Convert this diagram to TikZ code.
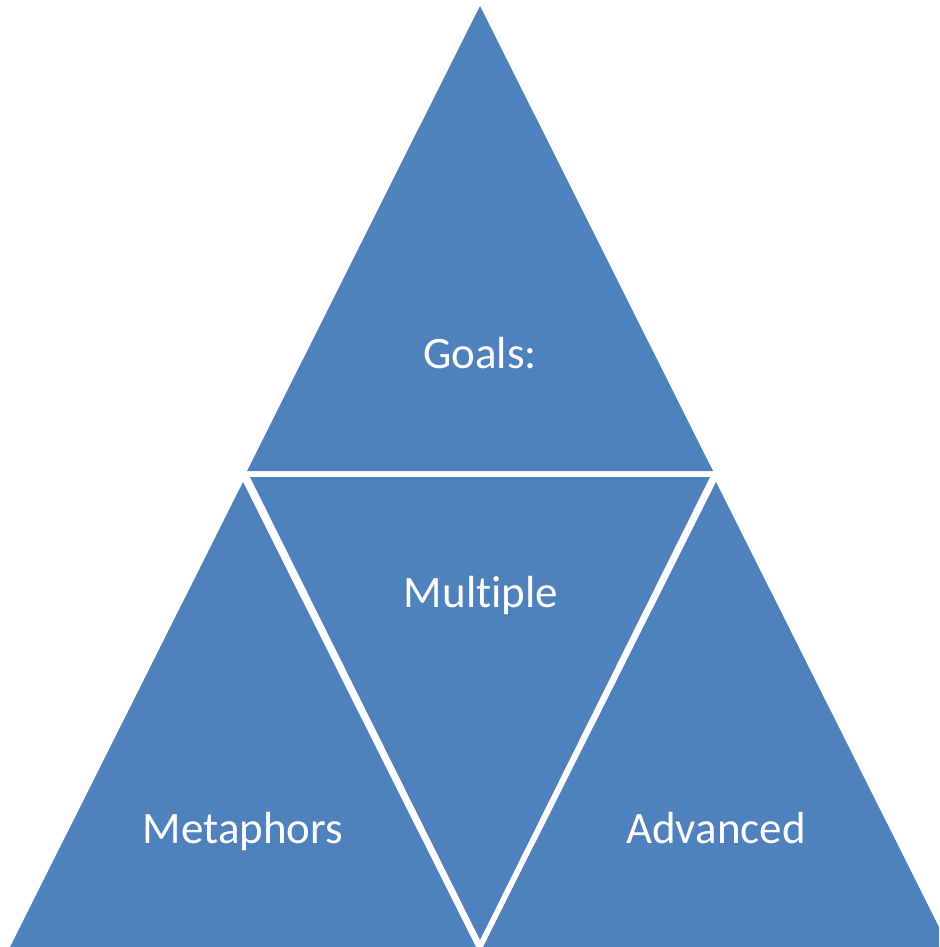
\documentclass[tikz,border=0pt]{standalone}
\usepackage{fontspec}
\setmainfont[Ligatures=NoCommon]{Carlito}
\definecolor{triblue}{HTML}{4F81BD}
\begin{document}
\begin{tikzpicture}[
  x=1pt, y=-1pt,
  every node/.style={text=white, anchor=base, inner sep=0pt, font=\fontsize{45}{54}\selectfont},
  piece/.style={fill=triblue, draw=none}
]

  % Marco de la imagen
  \useasboundingbox (0,0) rectangle (939,947);
  \clip (0,0) rectangle (939,947);

  % Triangulo superior e invertido central
  \fill[piece] (480,6) -- (247,471) -- (713,471) -- cycle;
  \fill[piece] (250,477) -- (710,477) -- (480,940) -- cycle;

  % Triangulos inferiores
  \fill[piece] (243,482) -- (10,947) -- (476,947) -- cycle;
  \fill[piece] (716,482) -- (483,947) -- (949,947) -- cycle;

  % Textos
  \node (goals) at (480,368) {Goals:};
  \node (multiple) at (481,607) {Multiple};
  \node (metaphors) at (243,843) {Metaphors};
  \node (advanced) at (716,843) {Advanced};

\end{tikzpicture}
\end{document}
